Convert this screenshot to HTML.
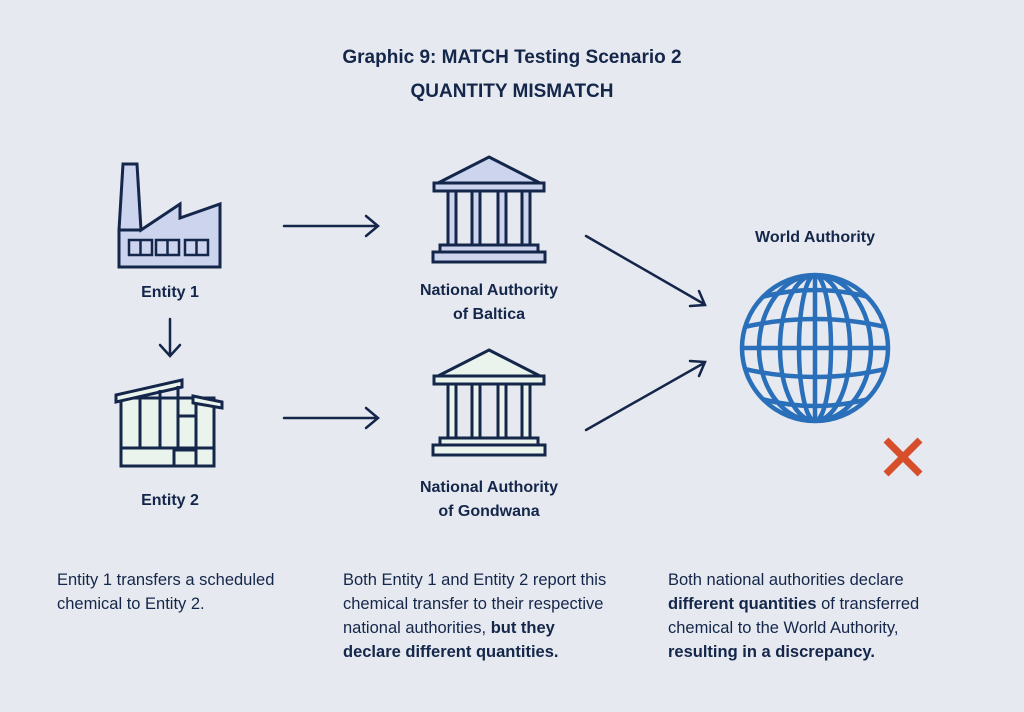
<!DOCTYPE html>
<html><head><style>
body{margin:0;background:#e6e9ef;}
svg{display:block;font-family:"Liberation Sans",sans-serif;}
</style></head><body>
<svg width="1024" height="712" viewBox="0 0 1024 712">
<defs><clipPath id="gc"><circle cx="815" cy="348" r="73"/></clipPath></defs>
<rect width="1024" height="712" fill="#e6e9ef"/>
<g fill="#14264a" text-anchor="middle" font-weight="bold">
<text x="512" y="63" font-size="19">Graphic 9: MATCH Testing Scenario 2</text>
<text x="512" y="97" font-size="19">QUANTITY MISMATCH</text>
<text x="170" y="297" font-size="16">Entity 1</text>
<text x="170" y="505" font-size="16">Entity 2</text>
<text x="489" y="295" font-size="16">National Authority</text>
<text x="489" y="319" font-size="16">of Baltica</text>
<text x="489" y="492" font-size="16">National Authority</text>
<text x="489" y="516" font-size="16">of Gondwana</text>
<text x="815" y="242" font-size="16">World Authority</text>
</g>
<g stroke="#14264a" stroke-width="3" fill="#ccd4ee" stroke-linejoin="miter">
<path d="M123,164 H137 L141,230 L180,204 V218 L220,204 V267 H119 V230 Z"/>
<line x1="119" y1="230" x2="141" y2="230"/>
<g fill="none" stroke-width="2.5"><rect x="129" y="240" width="23" height="15"/><rect x="156" y="240" width="23" height="15"/><rect x="185" y="240" width="23" height="15"/>
<line x1="140.5" y1="240" x2="140.5" y2="255"/><line x1="167.5" y1="240" x2="167.5" y2="255"/><line x1="196.5" y1="240" x2="196.5" y2="255"/></g>
</g>
<g stroke="#14264a" stroke-width="3" fill="#ebf4ec">
<path d="M121,398 H214 V466 H121 Z"/>
<path d="M116,395 L182,380 V387 L116,402 Z"/>
<path d="M193,396 L222,402 V408 L193,403 Z"/>
<line x1="121" y1="448" x2="214" y2="448"/>
<line x1="140" y1="396" x2="140" y2="448"/><line x1="160" y1="390" x2="160" y2="448"/><line x1="178" y1="386" x2="178" y2="448"/>
<line x1="178" y1="416" x2="196" y2="416"/><line x1="196" y1="403" x2="196" y2="448"/>
<rect x="174" y="450" width="22" height="16"/>
</g>
<g stroke="#14264a" stroke-width="3" fill="#ccd4ee">
<path d="M489,157 L540,183 H438 Z"/>
<rect x="434" y="183" width="110" height="8"/>
<rect x="448" y="191" width="8" height="54"/><rect x="472" y="191" width="8" height="54"/><rect x="498" y="191" width="8" height="54"/><rect x="522" y="191" width="8" height="54"/>
<rect x="440" y="245" width="98" height="7"/>
<rect x="433" y="252" width="112" height="10"/>
</g>
<g transform="translate(0,193)" stroke="#14264a" stroke-width="3" fill="#ebf4ec">
<path d="M489,157 L540,183 H438 Z"/>
<rect x="434" y="183" width="110" height="8"/>
<rect x="448" y="191" width="8" height="54"/><rect x="472" y="191" width="8" height="54"/><rect x="498" y="191" width="8" height="54"/><rect x="522" y="191" width="8" height="54"/>
<rect x="440" y="245" width="98" height="7"/>
<rect x="433" y="252" width="112" height="10"/>
</g>
<g stroke="#14264a" stroke-width="2.5" fill="none" stroke-linecap="round">
<path d="M284,226 H377 M366,216 L378,226 L366,236"/>
<path d="M284,418 H377 M366,408 L378,418 L366,428"/>
<path d="M170,319 V355 M160,345 L170,356 L180,345"/>
<path d="M586,236 L704,304 M690,306 L705,305 L699,291"/>
<path d="M586,430 L704,363 M699,376 L705,362 L690,361"/>
</g>
<g stroke="#2a6fba" stroke-width="4.5" fill="none">
<circle cx="815" cy="348" r="73"/>
<g clip-path="url(#gc)">
<line x1="815" y1="275" x2="815" y2="421"/>
<ellipse cx="815" cy="348" rx="16" ry="73"/>
<ellipse cx="815" cy="348" rx="35" ry="73"/>
<ellipse cx="815" cy="348" rx="56" ry="73"/>
<line x1="740" y1="348" x2="890" y2="348"/>
<path d="M740,328 Q815,310 890,328"/><path d="M740,368 Q815,386 890,368"/>
<path d="M745,302 Q815,278 885,302"/><path d="M745,394 Q815,418 885,394"/>
<path d="M760,280 Q815,264 870,280"/><path d="M760,416 Q815,432 870,416"/>
</g>
</g>
<g stroke="#d64f2a" stroke-width="7"><line x1="886" y1="440" x2="920" y2="474"/><line x1="920" y1="440" x2="886" y2="474"/></g>
<g fill="#14264a" font-size="16.5">
<text x="57" y="585">Entity 1 transfers a scheduled</text>
<text x="57" y="609">chemical to Entity 2.</text>
<text x="343" y="585">Both Entity 1 and Entity 2 report this</text>
<text x="343" y="609">chemical transfer to their respective</text>
<text x="343" y="633">national authorities, <tspan font-weight="bold">but they</tspan></text>
<text x="343" y="657" font-weight="bold">declare different quantities.</text>
<text x="668" y="585">Both national authorities declare</text>
<text x="668" y="609" font-weight="bold">different quantities <tspan font-weight="normal">of transferred</tspan></text>
<text x="668" y="633">chemical to the World Authority,</text>
<text x="668" y="657" font-weight="bold">resulting in a discrepancy.</text>
</g>
</svg>
</body></html>
